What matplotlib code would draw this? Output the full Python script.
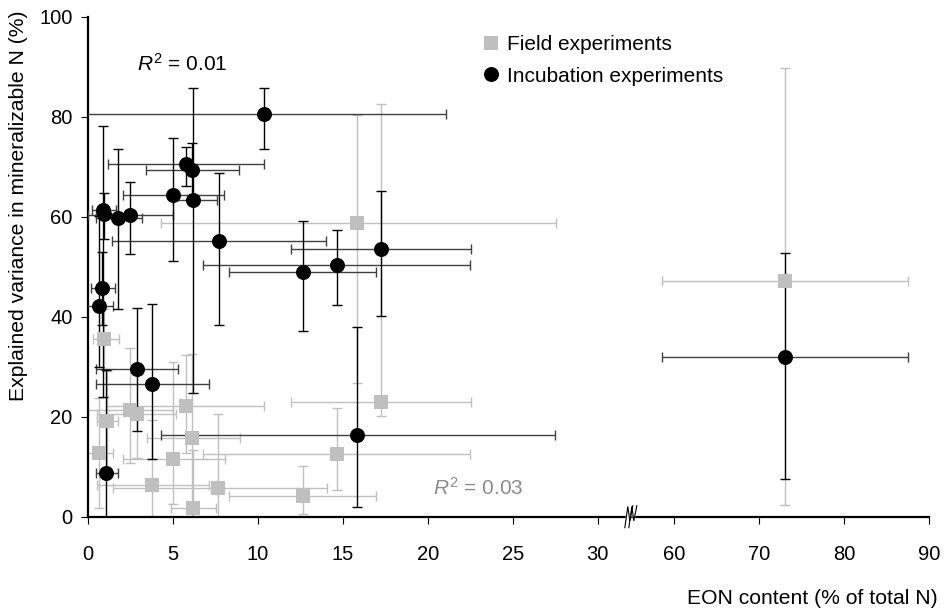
import numpy as np
import matplotlib
matplotlib.use('Agg')
import matplotlib.pyplot as plt
from matplotlib.transforms import ScaledTranslation

plt.rcParams['font.family'] = ['Liberation Sans', 'DejaVu Sans']
plt.rcParams['mathtext.fontset'] = 'custom'
plt.rcParams['mathtext.rm'] = 'Liberation Sans'
plt.rcParams['mathtext.it'] = 'Liberation Sans:italic'

# ---------------- data ----------------
# Incubation experiments (black circles)
inc_x = [10.39, 5.78, 6.15, 5.00, 6.19, 0.92, 0.98, 1.80, 2.49, 7.74,
         12.65, 14.65, 17.25, 0.86, 0.68, 2.88, 3.76, 15.82, 1.09, 72.96]
inc_y = [80.5, 70.5, 69.3, 64.3, 63.3, 61.3, 60.5, 59.7, 60.3, 55.2,
         48.9, 50.3, 53.5, 45.7, 42.1, 29.5, 26.5, 16.4, 8.7, 32.0]
inc_xerr_lo = [10.70, 4.57, 2.70, 2.90, 1.15, 0.68, 0.51, 1.31, 2.49, 6.30,
               4.36, 7.85, 5.29, 0.67, 0.78, 2.39, 3.27, 11.53, 0.60, 14.43]
inc_xerr_hi = [10.67, 4.61, 2.77, 3.00, 1.40, 0.74, 0.68, 1.37, 2.51, 6.30,
               4.31, 7.84, 5.30, 0.73, 0.82, 2.45, 3.39, 11.67, 0.71, 14.51]
inc_yerr_lo = [7.0, 4.4, 5.5, 13.1, 38.5, 37.3, 5.0, 18.2, 7.8, 16.9,
               11.7, 7.9, 13.4, 7.3, 12.1, 12.4, 15.0, 14.5, 20.6, 24.5]
inc_yerr_hi = [5.2, 3.5, 5.5, 11.4, 22.4, 16.9, 4.2, 13.8, 6.7, 13.5,
               10.2, 7.1, 11.6, 7.3, 18.0, 12.3, 16.0, 21.6, 20.6, 20.7]

# Field experiments (grey squares)
fld_x = [15.82, 17.25, 14.65, 12.65, 0.98, 1.12, 0.68, 2.49, 2.88, 5.76,
         6.12, 5.00, 3.76, 7.68, 6.18, 72.96]
fld_y = [58.8, 22.9, 12.6, 4.1, 35.5, 19.1, 12.7, 21.3, 20.5, 22.2,
         15.8, 11.5, 6.3, 5.7, 1.7, 47.2]
fld_xerr_lo = [11.53, 5.29, 7.85, 4.36, 0.69, 0.59, 0.78, 2.49, 2.35, 4.61,
               2.65, 2.90, 3.23, 6.18, 1.30, 14.43]
fld_xerr_hi = [11.71, 5.30, 7.84, 4.31, 0.86, 0.68, 0.82, 2.55, 2.30, 4.63,
               2.84, 3.08, 3.39, 6.42, 1.37, 14.51]
fld_yerr_lo = [32.0, 2.8, 7.3, 3.6, 6.0, 10.0, 11.0, 10.5, 8.8, 9.4,
               16.0, 9.0, 6.3, 5.7, 1.7, 44.9]
fld_yerr_hi = [21.5, 59.7, 9.1, 6.0, 6.0, 10.0, 11.0, 12.5, 8.0, 10.2,
               16.7, 19.5, 13.0, 14.8, 11.6, 42.5]

xticks = [0, 5, 10, 15, 20, 25, 30, 60, 70, 80, 90]
xtick_labels = ['0', '5', '10', '15', '20', '25', '30', '60', '70', '80', '90']
yticks = [0, 20, 40, 60, 80, 100]
series_labels = ['Field experiments', 'Incubation experiments']
r2_inc = '$R^2$ = 0.01'
r2_fld = '$R^2$ = 0.03'

# ---------------- broken x scale ----------------
XP = [-1000.0, 32.0, 55.0, 1000.0]
FP = [-1000.0, 32.0, 32.001, 32.001 + 945.0 * 0.5]


def fwd(x):
    return np.interp(x, XP, FP)


def inv(t):
    return np.interp(t, FP, XP)


fig = plt.figure(figsize=(9.44, 6.13), dpi=100)
ax = fig.add_axes([87.7 / 944, 96.3 / 613, 841.7 / 944, 500 / 613])
ax.set_xscale('function', functions=(fwd, inv))
ax.set_xlim(0, 90)
ax.set_ylim(0, 100)

grey = '#c0c0c0'
ekw = dict(fmt='none', elinewidth=1.0, capsize=3.5, capthick=1.0)

ax.errorbar(fld_x, fld_y, xerr=[fld_xerr_lo, fld_xerr_hi],
            yerr=[fld_yerr_lo, fld_yerr_hi], ecolor=grey, zorder=2, **ekw)
ax.errorbar(inc_x, inc_y, xerr=[inc_xerr_lo, inc_xerr_hi],
            ecolor='#404040', zorder=3, **ekw)
ax.errorbar(inc_x, inc_y, yerr=[inc_yerr_lo, inc_yerr_hi],
            ecolor='black', zorder=3, **ekw)

h_f, = ax.plot(fld_x, fld_y, linestyle='none', marker='s', markersize=10,
               color='#bfbfbf', markeredgewidth=0, zorder=4)
h_i, = ax.plot(inc_x, inc_y, linestyle='none', marker='o', markersize=10.8,
               color='black', markeredgewidth=0, zorder=5)

# axes styling
for s in ['top', 'right']:
    ax.spines[s].set_visible(False)
for s in ['left', 'bottom']:
    ax.spines[s].set_linewidth(1.6)
    ax.spines[s].set_color('black')

ax.set_xticks(xticks)
ax.set_xticklabels(xtick_labels)
ax.set_yticks(yticks)
ax.xaxis.set_minor_locator(matplotlib.ticker.NullLocator())
ax.tick_params(axis='both', direction='out', length=5, width=0.8,
               labelsize=14.5, colors='black')
ax.tick_params(axis='x', pad=15.5)
ax.tick_params(axis='y', pad=6)

ax.set_xlabel('EON content (% of total N)', fontsize=15.2, ha='right', va='center')
ax.xaxis.set_label_coords((938 - 87.7) / 841.7, (516.7 - 598) / 500)
ax.set_ylabel('Explained variance in mineralizable N (%)', fontsize=15.2,
              va='center', ha='center')
ax.yaxis.set_label_coords((18 - 87.7) / 841.7, (516.7 - 206) / 500)

ax.text((136.7 - 87.7) / 841.7, (516.7 - 64) / 500, r2_inc, transform=ax.transAxes,
        fontsize=15, color='black', ha='left', va='center')
ax.text((433 - 87.7) / 841.7, (516.7 - 488) / 500, r2_fld, transform=ax.transAxes,
        fontsize=15, color='#8c8c8c', ha='left', va='center')

ax.legend(handles=[h_f, h_i], labels=series_labels, loc='upper left',
          bbox_to_anchor=(481 / 944, 1 - 35 / 613), bbox_transform=fig.transFigure,
          frameon=False, fontsize=15, handlelength=1.0, handletextpad=0.25,
          labelspacing=0.6, borderpad=0, borderaxespad=0)

# axis break marker
trans = fig.dpi_scale_trans + ScaledTranslation(32.1, 0, ax.get_xaxis_transform())
l1 = np.array([(-7, -11), (-4, 10), (-2, -4), (1, 11)]) / 100.0
l2 = l1 + np.array([4, 0]) / 100.0
poly = np.vstack([l1, l2[::-1]])
ax.fill(poly[:, 0], poly[:, 1], color='white', transform=trans, clip_on=False, zorder=10)
ax.plot(l1[:, 0], l1[:, 1], color='black', lw=0.8, transform=trans, clip_on=False, zorder=11)
ax.plot(l2[:, 0], l2[:, 1], color='black', lw=0.8, transform=trans, clip_on=False, zorder=11)

fig.savefig('out.png', dpi=100)
